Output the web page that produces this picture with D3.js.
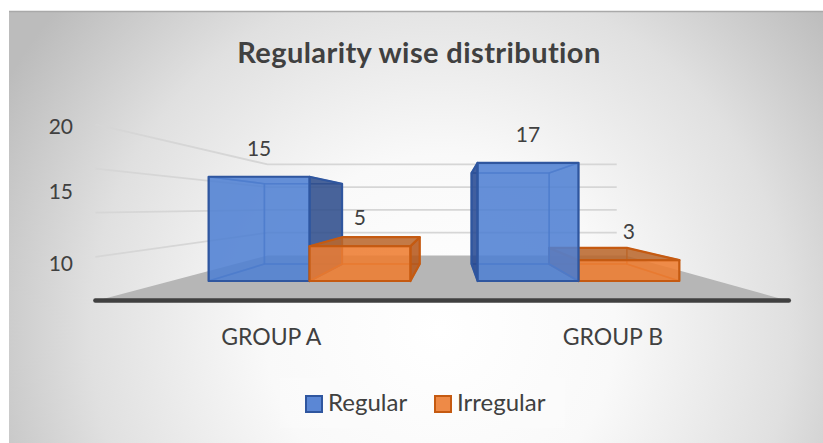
<!DOCTYPE html>
<html><head><meta charset="utf-8">
<script src="https://cdn.jsdelivr.net/npm/d3@7"></script>
<style>html,body{margin:0;padding:0;background:#fff;} svg{display:block;} text{font-family:Lato,"Open Sans",sans-serif;}</style>
</head><body><svg id="c" width="823" height="443"></svg>
<script>
// ---- data ----
const chartTitle = "Regularity wise distribution";
const groups = ["GROUP A", "GROUP B"];
const series = ["Regular", "Irregular"];
const regular = [15, 17];
const irregular = [5, 3];
const axisLabels = [20, 15, 10];
const gridValues = [5, 10, 15, 20];

// ---- layout ----
const svg = d3.select("#c");
const vp = {x: 451, y: 207};
const D = {floorFront: 1.27, barFront: 1, barBack: 0.77, wall: 0.655};
const x0 = d3.scaleBand().domain(groups).range([171, 717]).paddingInner(0.25).paddingOuter(0.14);
const x1 = d3.scaleBand().domain(series).range([0, x0.bandwidth()]);
const y = d3.scaleLinear().domain([0, 20]).range([281, 142]);
const labelY = d3.scaleLinear().domain([10, 15, 20]).range([271, 199, 134]);
const gridRight = 704;
const P = (x, yy, s) => [vp.x + s * (x - vp.x), vp.y + s * (yy - vp.y)];
const line = d3.line();

const colors = {
  Regular: {front: "#4f80d3", side: "#2d4b8a", sideB: "#24468f", top: "#3c64b0", edge: "#2f569f", legend: "#5b87d5"},
  Irregular: {front: "#ed7d31", side: "#b4561a", sideB: "#b4561a", top: "#b9662c", edge: "#c55a11", legend: "#ee8a47"}
};

// ---- background ----
const defs = svg.append("defs");
const rg = defs.append("radialGradient").attr("id", "bg").attr("gradientUnits", "userSpaceOnUse")
  .attr("cx", 440).attr("cy", 330).attr("r", 500);
rg.append("stop").attr("offset", 0).attr("stop-color", "#ffffff");
rg.append("stop").attr("offset", 0.35).attr("stop-color", "#f9f9f9");
rg.append("stop").attr("offset", 0.7).attr("stop-color", "#e0e0e0");
rg.append("stop").attr("offset", 1).attr("stop-color", "#bcbcbc");
svg.append("rect").attr("x", 9).attr("y", 11).attr("width", 814).attr("height", 432).attr("fill", "url(#bg)");
svg.append("line").attr("x1", 9).attr("x2", 823).attr("y1", 11.5).attr("y2", 11.5).attr("stroke", "#a9a9a9").attr("stroke-width", 1.5);

// ---- title ----
svg.append("text").attr("x", 419).attr("y", 63).attr("text-anchor", "middle")
  .attr("font-size", 29).attr("letter-spacing", 0.4).attr("font-weight", "bold").attr("fill", "#404040").text(chartTitle);

// ---- floor ----
const [fx0, fx1] = x0.range();
svg.append("path").attr("d", line([P(fx0, y(0), D.floorFront), P(fx1, y(0), D.floorFront), P(fx1, y(0), D.wall), P(fx0, y(0), D.wall)]) + "Z")
  .attr("fill", "#b6b6b6");

// ---- gridlines (left wall + back wall) ----
const grid = svg.append("g").attr("fill", "none").attr("stroke", "#d6d6d6").attr("stroke-width", 1.8);
gridValues.forEach(v => {
  grid.append("path").attr("d", line([P(fx0, y(v), D.floorFront), P(fx0, y(v), D.wall), P(gridRight, y(v), D.wall)]));
});

// ---- axis labels ----
svg.append("g").selectAll("text").data(axisLabels).join("text")
  .attr("x", 73).attr("y", d => labelY(d)).attr("text-anchor", "end")
  .attr("font-size", 21).attr("fill", "#404040").text(d => d);

// ---- bars ----
const bars = [];
groups.forEach((g, i) => {
  bars.push({g, s: "Regular", v: regular[i]});
  bars.push({g, s: "Irregular", v: irregular[i]});
});
bars.forEach(b => {
  b.xl = x0(b.g) + x1(b.s);
  b.xr = b.xl + x1.bandwidth();
  b.dist = Math.abs((b.xl + b.xr) / 2 - vp.x);
});
bars.sort((a, b) => b.dist - a.dist);

const barG = svg.append("g");
bars.forEach(b => {
  const c = colors[b.s];
  const f = D.barFront, k = D.barBack;
  const yt = y(b.v), yb = y(0);
  const faces = {
    back: [P(b.xl, yt, k), P(b.xr, yt, k), P(b.xr, yb, k), P(b.xl, yb, k)],
    bottom: [P(b.xl, yb, f), P(b.xr, yb, f), P(b.xr, yb, k), P(b.xl, yb, k)],
    left: [P(b.xl, yt, f), P(b.xl, yt, k), P(b.xl, yb, k), P(b.xl, yb, f)],
    right: [P(b.xr, yt, f), P(b.xr, yt, k), P(b.xr, yb, k), P(b.xr, yb, f)],
    top: [P(b.xl, yt, f), P(b.xr, yt, f), P(b.xr, yt, k), P(b.xl, yt, k)],
    front: [P(b.xl, yt, f), P(b.xr, yt, f), P(b.xr, yb, f), P(b.xl, yb, f)]
  };
  const leftVis = b.xl > vp.x, rightVis = b.xr < vp.x, topVis = yt > vp.y;
  const hidden = ["back", "bottom"];
  if (!leftVis) hidden.push("left");
  if (!rightVis) hidden.push("right");
  if (!topVis) hidden.push("top");
  const g = barG.append("g");
  hidden.forEach(n => g.append("path").attr("d", line(faces[n]) + "Z")
    .attr("fill", c.front).attr("fill-opacity", 0.12)
    .attr("stroke", c.edge).attr("stroke-opacity", 0.55).attr("stroke-width", 1.6).attr("stroke-linejoin", "round"));
  const vis = [];
  if (leftVis) vis.push(["left", c.sideB]);
  if (rightVis) vis.push(["right", c.side]);
  if (topVis) vis.push(["top", c.top]);
  vis.push(["front", c.front]);
  vis.forEach(([n, col]) => g.append("path").attr("d", line(faces[n]) + "Z")
    .attr("fill", col).attr("fill-opacity", n === "front" ? 0.86 : 0.85)
    .attr("stroke", c.edge).attr("stroke-width", 2.2).attr("stroke-linejoin", "round"));
  // data label
  svg.append("text").attr("x", (b.xl + b.xr) / 2).attr("y", yt - 21)
    .attr("text-anchor", "middle").attr("font-size", 21).attr("fill", "#404040").text(b.v);
});

// ---- floor front edge ----
svg.append("path").attr("d", line([P(fx0, y(0), D.floorFront), P(fx1, y(0), D.floorFront)]))
  .attr("stroke", "#404040").attr("stroke-width", 4.5).attr("stroke-linecap", "round").attr("transform", "translate(0,-0.5)");

// ---- category labels ----
svg.append("g").selectAll("text").data(groups).join("text")
  .attr("x", d => P(x0(d) + x0.bandwidth() / 2, y(0), D.floorFront)[0])
  .attr("y", 345).attr("text-anchor", "middle").attr("font-size", 23).attr("fill", "#404040").text(d => d);

// ---- legend ----
svg.append("rect").attr("x", 280).attr("y", 378).attr("width", 285).attr("height", 50)
  .attr("fill", "#ffffff").attr("fill-opacity", 0.18);
const legendX = [305, 434];
const leg = svg.append("g").selectAll("g").data(series).join("g")
  .attr("transform", (d, i) => `translate(${legendX[i]},0)`);
leg.append("rect").attr("x", 1).attr("y", 396).attr("width", 16).attr("height", 16)
  .attr("fill", d => colors[d].legend).attr("stroke", d => colors[d].edge).attr("stroke-width", 2);
leg.append("text").attr("x", 23).attr("y", 411).attr("font-size", 24).attr("fill", "#404040").text(d => d);
</script>
</body></html>
